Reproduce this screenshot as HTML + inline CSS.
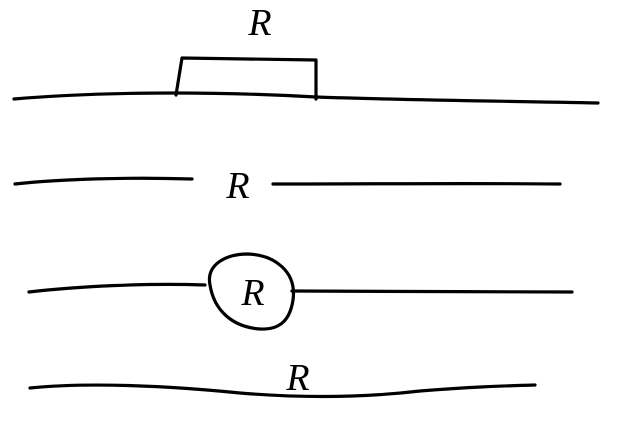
<!DOCTYPE html>
<html><head><style>html,body{margin:0;padding:0;background:#fff;}svg{display:block}</style></head>
<body>
<svg width="627" height="440" viewBox="0 0 627 440" xmlns="http://www.w3.org/2000/svg">
<g fill="none" stroke="#000" stroke-width="3.2" stroke-linecap="round" stroke-linejoin="round">
<path d="M14,99 C60,95 120,93 176,93 C230,93 280,95 316,97 C400,100 500,101 598,103"/>
<path d="M176,95 L182,58 L316,60 L316,99"/>
<path d="M15,184 C60,179 130,177 192,179"/>
<path d="M273,184 C380,184 470,183 560,184"/>
<path d="M29,292 C80,286 150,283 205,285"/>
<path d="M292,291 C380,291 480,292 572,292"/>
<path d="M210,285 C206,265 225,254 248,254 C275,255 297,272 293,300 C290,320 280,330 260,329 C232,327 214,310 210,285 Z"/>
<path d="M30,388 C90,382 170,386 240,393 C300,398 360,398 420,391 C470,387 500,386 535,385"/>
</g>
<g font-family="Liberation Serif, serif" font-style="italic" font-size="38" fill="#000" text-anchor="middle">
<text x="260" y="35">R</text>
<text x="238" y="198">R</text>
<text x="253" y="305">R</text>
<text x="298" y="390">R</text>
</g>
</svg>
</body></html>
